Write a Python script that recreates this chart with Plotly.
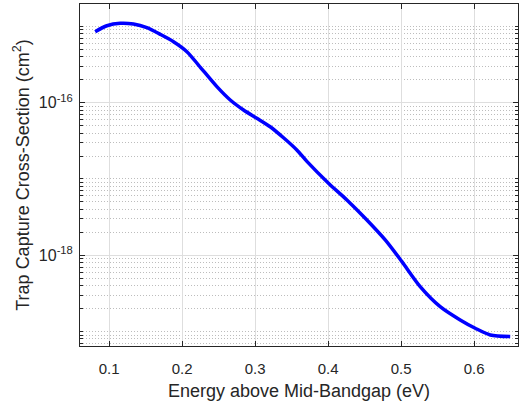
import plotly.graph_objects as go

energy_ev = [0.0808, 0.0968, 0.1151, 0.1333, 0.1516, 0.1699, 0.1881, 0.2064, 0.2223,
             0.2475, 0.2658, 0.284, 0.3023, 0.3205, 0.3388, 0.357, 0.3708, 0.4004,
             0.4256, 0.4507, 0.4781, 0.501, 0.526, 0.5534, 0.5808, 0.6014, 0.622, 0.6493]
log_sigma = [-15.069, -14.991, -14.959, -14.969, -15.017, -15.104, -15.201, -15.331,
             -15.506, -15.79, -15.965, -16.096, -16.204, -16.315, -16.46, -16.62,
             -16.77, -17.056, -17.275, -17.515, -17.799, -18.084, -18.411, -18.674,
             -18.848, -18.957, -19.045, -19.067]
sigma_cm2 = [10 ** v for v in log_sigma]

x_ticks = [0.1, 0.2, 0.3, 0.4, 0.5, 0.6]
y_ticks = [1e-16, 1e-18]
y_tick_text = ["10<sup>-16</sup>", "10<sup>-18</sup>"]
y_minor = [k * 10.0 ** n for n in range(-20, -14) for k in range(1, 10)
           if not (k == 1 and n in (-16, -18))]

fig = go.Figure()
fig.add_trace(go.Scatter(x=energy_ev, y=sigma_cm2, mode="lines",
                         line=dict(color="#0000FF", width=3.5, shape="spline", smoothing=0.8),
                         showlegend=False))

font = dict(family="Liberation Sans, Arial, sans-serif", color="#262626")
fig.update_layout(
    width=521, height=403,
    margin=dict(l=80, r=3, t=4, b=57),
    paper_bgcolor="white", plot_bgcolor="white",
    font=dict(**font, size=14),
)
fig.update_xaxes(
    range=[0.06, 0.66], tickvals=x_ticks, ticktext=[f"{v:.1f}" for v in x_ticks],
    ticks="inside", ticklen=5, tickcolor="#262626", mirror="ticks",
    showline=True, linecolor="#262626", linewidth=1, automargin=False,
    showgrid=True, gridcolor="#dedede", gridwidth=1, zeroline=False,
    tickfont=dict(size=15), ticklabelstandoff=9,
    title=dict(text="Energy above Mid-Bandgap (eV)", font=dict(size=18), standoff=8),
)
fig.update_yaxes(
    type="log", range=[-19.19, -14.706], tickvals=y_ticks, ticktext=y_tick_text,
    ticks="inside", ticklen=5, tickcolor="#262626", mirror="ticks",
    showline=True, linecolor="#262626", linewidth=1, automargin=False,
    showgrid=True, gridcolor="#dedede", gridwidth=1, zeroline=False,
    tickfont=dict(size=16), ticklabelstandoff=3,
    minor=dict(tickvals=y_minor, ticks="inside", ticklen=3, tickcolor="#262626",
               showgrid=True, gridcolor="#bdbdbd", griddash="1px,2px", gridwidth=1),
    title=dict(text="Trap Capture Cross-Section (cm<sup>2</sup>)", font=dict(size=18), standoff=4),
)
fig.write_html("out.html", config={"displayModeBar": False},
               post_script="document.body.style.margin='0';")
